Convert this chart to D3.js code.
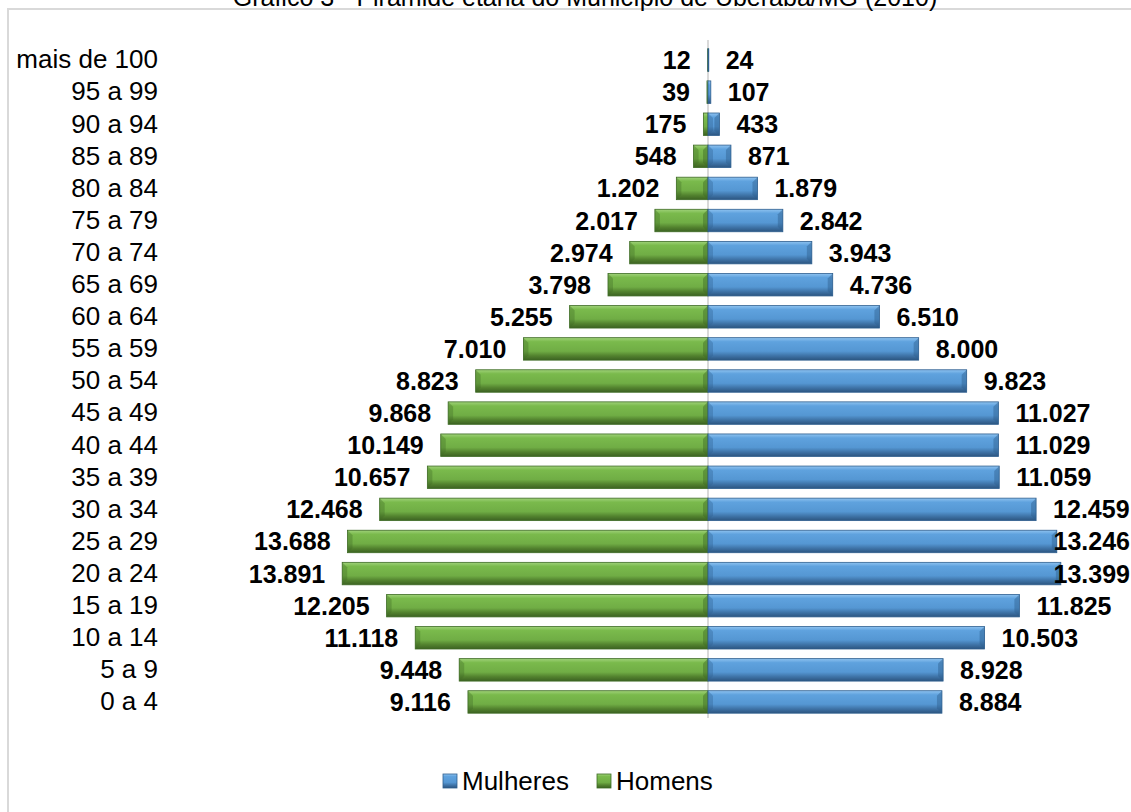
<!DOCTYPE html>
<html>
<head>
<meta charset="utf-8">
<script src="https://cdn.jsdelivr.net/npm/d3@7"></script>
<style>
  body { margin: 0; background: #fff; }
  text { font-family: Arial, "Liberation Sans", sans-serif; fill: #000; }
</style>
</head>
<body>
<div id="svganchor"></div>
<script>
// age groups, top of the pyramid first
let ageGroups = ["mais de 100", "95 a 99", "90 a 94", "85 a 89", "80 a 84", "75 a 79", "70 a 74",
    "65 a 69", "60 a 64", "55 a 59", "50 a 54", "45 a 49", "40 a 44", "35 a 39", "30 a 34",
    "25 a 29", "20 a 24", "15 a 19", "10 a 14", "5 a 9", "0 a 4"];
let mulheres = [24, 107, 433, 871, 1879, 2842, 3943, 4736, 6510, 8000, 9823, 11027, 11029, 11059,
    12459, 13246, 13399, 11825, 10503, 8928, 8884];
let homens = [12, 39, 175, 548, 1202, 2017, 2974, 3798, 5255, 7010, 8823, 9868, 10149, 10657,
    12468, 13688, 13891, 12205, 11118, 9448, 9116];
let seriesNames = ["Mulheres", "Homens"];
let title = "Gráfico 3 - Pirâmide etária do Município de Uberaba/MG (2010)";

let width = 1131;
let height = 812;

let fmt = d3.formatLocale({decimal: ",", thousands: ".", grouping: [3], currency: ["R$", ""]}).format(",d");

let svg = d3.select("#svganchor")
    .append("svg")
    .attr("width", width)
    .attr("height", height);

svg.append("rect").attr("width", width).attr("height", height).attr("fill", "#fff");

// gradients to fake the bevelled excel bars
let defs = svg.append("defs");
function grad(id, stops) {
    let g = defs.append("linearGradient").attr("id", id)
        .attr("x1", 0).attr("y1", 0).attr("x2", 0).attr("y2", 1);
    stops.forEach(s => g.append("stop").attr("offset", s[0]).attr("stop-color", s[1]));
}
grad("gBlue", [[0, "#8fc3f0"], [0.18, "#5fa2de"], [0.6, "#5597d3"], [0.8, "#3f74a8"], [1, "#2c5580"]]);
grad("gGreen", [[0, "#a0d27a"], [0.18, "#7aba4c"], [0.6, "#70ad45"], [0.8, "#53832f"], [1, "#3c6222"]]);

// chart border (only top and left visible)
svg.append("path")
    .attr("d", "M8," + height + "V9H" + width)
    .attr("fill", "none")
    .attr("stroke", "#d9d9d9")
    .attr("stroke-width", 2);

// title (cut off at the top like the original)
svg.append("text")
    .attr("x", 585)
    .attr("y", 6)
    .attr("text-anchor", "middle")
    .style("font-size", "25px")
    .text(title);

let xScale = d3.scaleLinear()
    .domain([-15000, 15000])
    .range([313, 1103]);

let yScale = d3.scaleBand()
    .domain(ageGroups)
    .range([44, 718])
    .paddingInner(0.3)
    .paddingOuter(0.15);

let rows = ageGroups.map((g, i) => ({group: g, f: mulheres[i], m: homens[i]}));

// centre axis
svg.append("line")
    .attr("x1", xScale(0)).attr("x2", xScale(0))
    .attr("y1", 40).attr("y2", 718)
    .attr("stroke", "#d9d9d9")
    .attr("stroke-width", 2);

// category axis
let yAxis = d3.axisLeft(yScale).tickSize(0).tickPadding(0);
svg.append("g")
    .attr("class", "y axis")
    .attr("transform", "translate(158,0)")
    .call(yAxis)
    .call(g => g.select(".domain").remove())
    .selectAll("text")
    .style("font-size", "26px")
    .style("font-family", "Arial, 'Liberation Sans', sans-serif")
    .attr("fill", "#000");

function bevelBar(g, x0, x1, y, h, fill, edge) {
    let w = x1 - x0;
    g.append("rect")
        .attr("x", x0).attr("y", y)
        .attr("width", Math.max(w, 0.8)).attr("height", h)
        .attr("fill", "url(#" + fill + ")")
        .attr("stroke", edge)
        .attr("stroke-width", 0.8);
    if (w > 10) {
        let b = 5;
        // darker end facets
        g.append("path")
            .attr("d", `M${x0},${y}L${x0 + b},${y + b}L${x0 + b},${y + h - b}L${x0},${y + h}Z`)
            .attr("fill", edge).attr("opacity", 0.35);
        g.append("path")
            .attr("d", `M${x1},${y}L${x1 - b},${y + b}L${x1 - b},${y + h - b}L${x1},${y + h}Z`)
            .attr("fill", edge).attr("opacity", 0.45);
    }
}

let bars = svg.append("g");
rows.forEach(d => {
    let y = yScale(d.group);
    let h = yScale.bandwidth();
    bevelBar(bars, xScale(-d.m), xScale(0), y, h, "gGreen", "#3e6b25");
    bevelBar(bars, xScale(0), xScale(d.f), y, h, "gBlue", "#2f5f8f");
});

// value labels
let labels = svg.append("g")
    .style("font-size", "25px")
    .style("font-weight", "bold");

let gap = 17;
rows.forEach(d => {
    let cy = yScale(d.group) + yScale.bandwidth() / 2;
    labels.append("text")
        .attr("x", xScale(-d.m) - gap)
        .attr("y", cy)
        .attr("dy", "0.36em")
        .attr("text-anchor", "end")
        .text(fmt(d.m));
    let t = labels.append("text")
        .attr("x", xScale(d.f) + gap)
        .attr("y", cy)
        .attr("dy", "0.36em")
        .text(fmt(d.f));
    let len = t.node().getComputedTextLength();
    if (xScale(d.f) + gap + len > width - 1) t.attr("x", width - 1 - len);
});

// legend
let legend = svg.append("g").attr("transform", "translate(443,774)");
let legendItems = [
    {name: seriesNames[0], fill: "gBlue", edge: "#2f5f8f", x: 0},
    {name: seriesNames[1], fill: "gGreen", edge: "#3e6b25", x: 154}
];
legendItems.forEach(l => {
    legend.append("rect")
        .attr("x", l.x).attr("y", 0)
        .attr("width", 14).attr("height", 14)
        .attr("fill", "url(#" + l.fill + ")")
        .attr("stroke", l.edge).attr("stroke-width", 0.8);
    legend.append("text")
        .attr("x", l.x + 19)
        .attr("y", 16)
        .style("font-size", "26px")
        .text(l.name);
});
</script>
</body>
</html>
